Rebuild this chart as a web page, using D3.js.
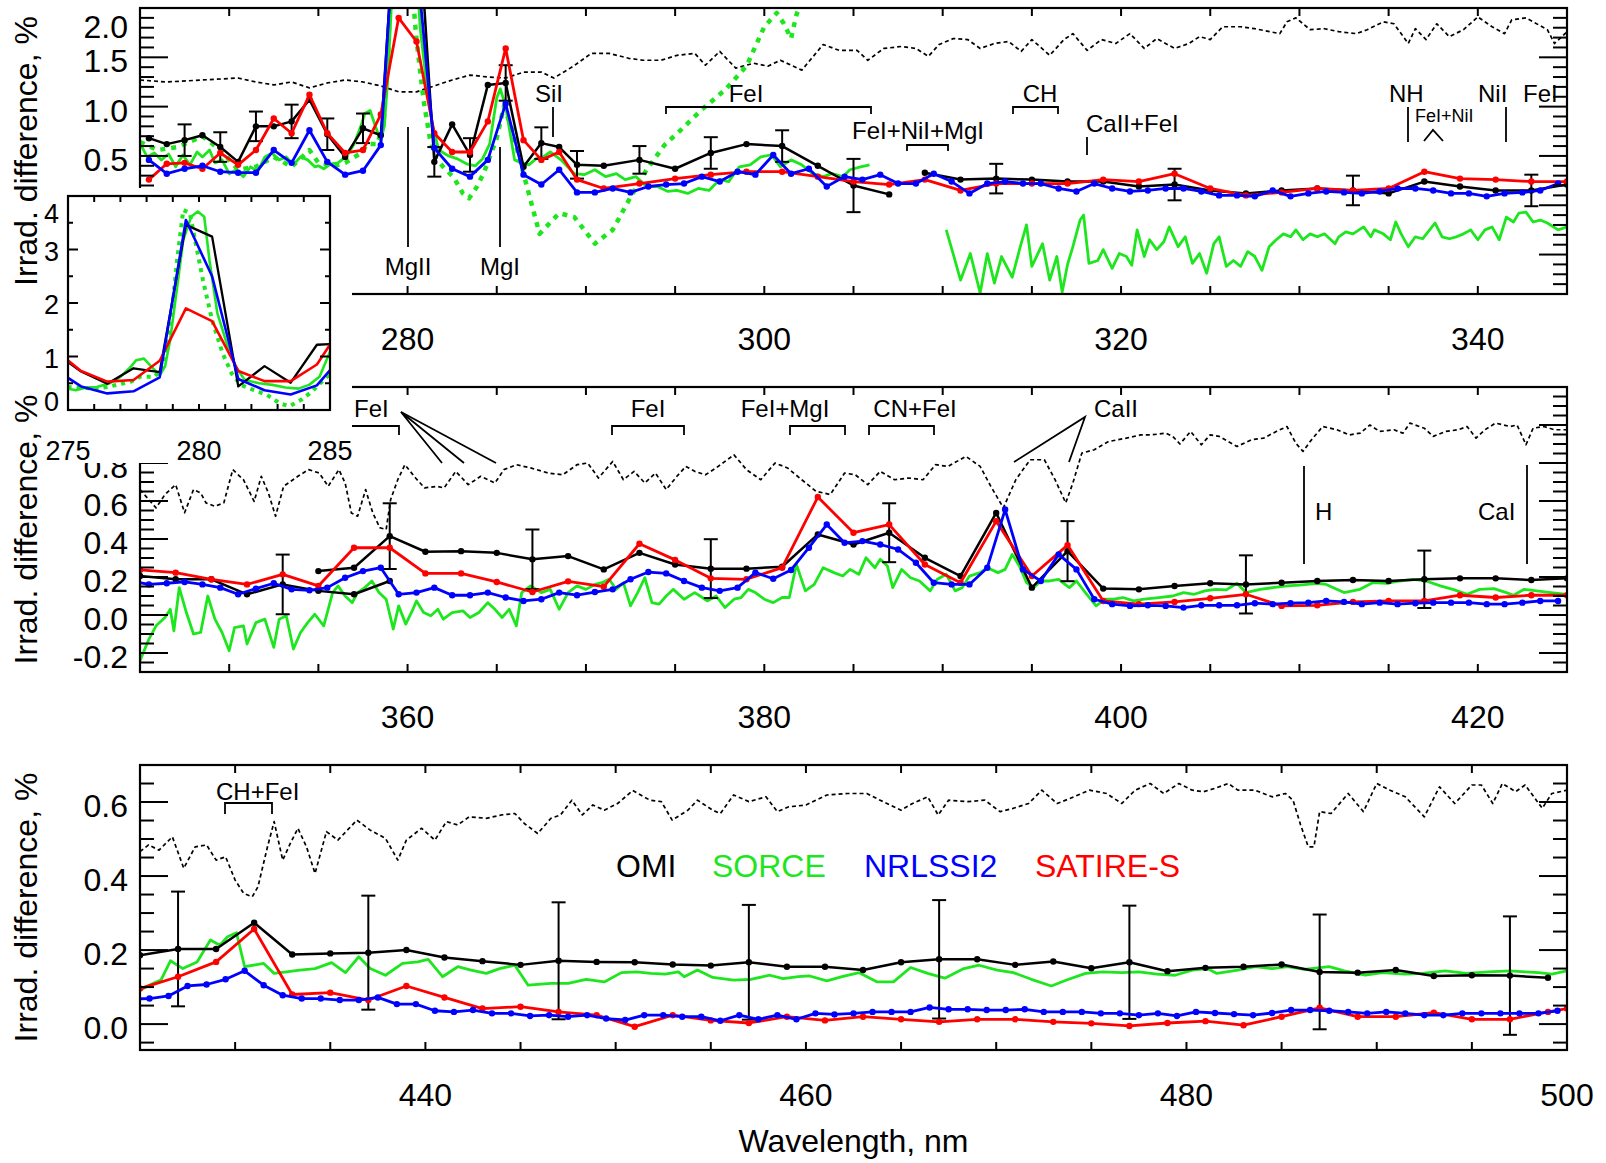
<!DOCTYPE html>
<html><head><meta charset="utf-8">
<script src="https://cdn.jsdelivr.net/npm/d3@7"></script>
<style>
html,body{margin:0;padding:0;background:#fff;}
svg{display:block;font-family:"Liberation Sans",Arial,Helvetica,sans-serif;}
</style></head><body>
<svg id="chart" width="1606" height="1163"></svg>
<script>
// ===================== DATA =====================
// Series names / legend
const seriesNames = ["OMI", "SORCE", "NRLSSI2", "SATIRE-S"];
const seriesColors = {OMI:"#000000", SORCE:"#1ee61e", NRLSSI2:"#0000ff", "SATIRE-S":"#ff0000"};

// Tick labels
const xLabels1 = [280, 300, 320, 340];
const xLabels2 = [360, 380, 400, 420];
const xLabels3 = [440, 460, 480, 500];
const insetXLabels = [275, 280, 285];
const insetYLabels = [0, 1, 2, 3, 4];

// ---------- Panel 1 (265-345 nm) ----------
const omi1a = [[265.5,0.68],[266.5,0.62],[267.5,0.66],[268.5,0.71],[269.5,0.59],[270.5,0.44],[271.5,0.80],[272.5,0.80],[273.5,0.85],[274.5,1.07],[275.5,0.72],[276.5,0.49],[277.5,0.78],[278.5,0.71],[279.5,3.46],[280.5,3.24],[281.5,0.44],[282.5,0.82],[283.5,0.51],[284.5,1.22],[285.5,1.24],[286.5,0.39],[287.5,0.63],[288.5,0.59],[289.5,0.41],[291,0.40],[293,0.46],[295,0.37],[297,0.53],[299,0.62],[301,0.60],[303,0.40],[305,0.20],[307,0.11]];
const omi1b = [[309,0.33],[311,0.26],[313,0.27],[315,0.26],[317,0.24],[319,0.24],[321,0.19],[323,0.21],[325,0.15],[327,0.12],[329,0.15],[331,0.17],[333,0.15],[335,0.12],[337,0.24],[339,0.19],[341,0.15],[343,0.15],[345,0.21]];
const err1a = [[267.5,0.16],[269.5,0.15],[271.5,0.15],[273.5,0.17],[275.5,0.16],[277.5,0.15],[281.5,0.15],[283.5,0.17],[285.5,0.18],[287.5,0.16],[289.5,0.14],[293,0.14],[297,0.16],[301,0.16],[305,0.27]];
const err1b = [[313,0.15],[323,0.16],[333,0.15],[343,0.16]];
const satire1 = [[265.5,0.26],[266.5,0.42],[267.5,0.43],[268.5,0.37],[269.5,0.53],[270.5,0.41],[271.5,0.56],[272.5,0.88],[273.5,0.73],[274.5,1.12],[275.5,0.73],[276.5,0.53],[277.5,0.56],[278.5,0.92],[279.5,1.90],[280.5,1.66],[281.5,0.73],[282.5,0.54],[283.5,0.54],[284.5,0.85],[285.5,1.59],[286.5,0.66],[287.5,0.46],[288.5,0.54],[289.5,0.26],[291,0.17],[293,0.22],[295,0.27],[297,0.31],[299,0.34],[301,0.34],[303,0.29],[305,0.24],[307,0.21],[309,0.26],[311,0.15],[313,0.22],[315,0.22],[317,0.22],[319,0.26],[321,0.24],[323,0.32],[325,0.17],[327,0.10],[329,0.13],[331,0.17],[333,0.15],[335,0.17],[337,0.34],[339,0.27],[341,0.26],[343,0.24],[345,0.24]];
const nrl1Wl = d3.range(265.5, 345, 1);
const nrl1Val = [0.46,0.32,0.37,0.40,0.34,0.33,0.33,0.56,0.43,0.76,
  0.44,0.31,0.35,0.61,3.55,2.50,0.58,0.37,0.29,0.46,
  1.03,0.31,0.21,0.36,0.13,0.13,0.17,0.13,0.19,0.21,
  0.22,0.29,0.24,0.34,0.31,0.51,0.32,0.37,0.19,0.29,
  0.26,0.31,0.22,0.22,0.32,0.24,0.12,0.22,0.24,0.22,
  0.22,0.17,0.14,0.22,0.17,0.14,0.15,0.17,0.17,0.14,
  0.10,0.10,0.09,0.15,0.09,0.12,0.14,0.13,0.12,0.14,
  0.17,0.17,0.15,0.12,0.12,0.09,0.12,0.13,0.15,0.22];
const sorce1a = [[265,0.63],[265.4,0.49],[265.8,0.53],[266.2,0.46],[266.6,0.52],[267,0.39],[267.4,0.51],[267.8,0.41],[268.2,0.54],[268.5,0.49],[268.9,0.56],[269.2,0.43],[269.6,0.46],[270,0.32],[270.4,0.36],[270.8,0.29],[271.2,0.39],[271.6,0.34],[272,0.49],[272.4,0.53],[272.8,0.46],[273.2,0.49],[273.6,0.41],[274,0.49],[274.4,0.46],[274.8,0.39],[275,0.40],[275.3,0.37],[275.7,0.42],[276.1,0.43],[276.6,0.50],[277,0.62],[277.4,0.81],[277.6,0.93],[277.9,0.96],[278.2,0.80],[278.5,0.65],[278.7,0.81],[278.9,1.31],[279.2,2.43],[279.4,3.18],[279.7,3.61],[279.95,3.71],[280.2,3.61],[280.4,2.8],[280.7,1.81],[281.1,1.18],[281.4,0.81],[281.75,0.56],[282.3,0.50],[282.8,0.47],[283.3,0.42],[283.8,0.40],[284.2,0.47],[284.6,0.62],[285,1.09],[285.2,1.18],[285.5,1.0],[286,0.46],[286.4,0.43],[286.8,0.41],[287.2,0.47],[287.6,0.49],[288,0.54],[288.6,0.46],[289.35,0.32],[289.9,0.31],[290.5,0.36],[291.1,0.29],[291.7,0.32],[292.2,0.26],[292.8,0.29],[293.4,0.19],[294,0.19],[294.6,0.14],[295.1,0.15],[295.7,0.12],[296.3,0.17],[296.9,0.15],[297.5,0.26],[298,0.24],[298.6,0.39],[299.2,0.41],[299.8,0.49],[300.4,0.51],[300.9,0.39],[301.5,0.46],[302.1,0.41],[302.7,0.32],[303.3,0.29],[303.8,0.32],[304.4,0.29],[304.8,0.36],[305.4,0.39],[305.9,0.41]];
const sorce1b = [[310.2,-0.25],[310.6,-0.5],[311,-0.76],[311.55,-0.49],[312.1,-0.89],[312.5,-0.49],[312.9,-0.79],[313.3,-0.52],[313.9,-0.73],[314.35,-0.42],[314.7,-0.2],[315,-0.62],[315.6,-0.39],[316,-0.76],[316.4,-0.52],[316.7,-0.88],[317,-0.6],[317.3,-0.42],[317.7,-0.15],[317.9,-0.1],[318.2,-0.59],[318.7,-0.56],[319,-0.45],[319.5,-0.64],[319.9,-0.49],[320.3,-0.52],[320.6,-0.61],[320.9,-0.25],[321.3,-0.52],[321.6,-0.35],[322,-0.45],[322.4,-0.37],[322.7,-0.22],[323.2,-0.42],[323.6,-0.32],[324,-0.59],[324.4,-0.49],[324.8,-0.69],[325.2,-0.39],[325.5,-0.32],[325.9,-0.62],[326.3,-0.56],[326.7,-0.62],[327.1,-0.47],[327.5,-0.52],[327.9,-0.66],[328.3,-0.42],[328.7,-0.35],[329.1,-0.29],[329.5,-0.32],[329.8,-0.25],[330.2,-0.35],[330.6,-0.29],[331,-0.32],[331.4,-0.29],[332,-0.39],[332.2,-0.32],[332.6,-0.27],[333,-0.29],[333.6,-0.22],[334,-0.32],[334.2,-0.25],[334.7,-0.29],[335.1,-0.35],[335.4,-0.17],[335.7,-0.29],[336.1,-0.42],[336.5,-0.32],[336.9,-0.34],[337.3,-0.25],[337.6,-0.18],[338,-0.32],[338.4,-0.34],[338.8,-0.32],[339.2,-0.29],[339.6,-0.25],[340,-0.35],[340.4,-0.25],[340.8,-0.22],[341.2,-0.35],[341.6,-0.12],[342,-0.17],[342.3,-0.08],[342.7,-0.07],[343.1,-0.17],[343.5,-0.15],[343.9,-0.18],[344.5,-0.25],[345,-0.22]];
const sorceAlt1 = [[265,0.64],[266,0.56],[267.1,0.59],[268.5,0.70],[269.5,0.56],[270.5,0.36],[271.5,0.39],[272.5,0.49],[273.5,0.39],[274.5,0.56],[275,0.43],[275.4,0.42],[275.95,0.40],[276.5,0.43],[277.4,0.53],[277.75,0.62],[278.3,0.62],[278.65,0.81],[278.9,1.49],[279.15,2.74],[279.4,3.74],[279.65,3.68],[279.9,3.05],[280.15,2.43],[280.5,1.68],[280.9,1.06],[281.25,0.68],[281.6,0.47],[282.1,0.37],[282.6,0.28],[283.1,0.12],[283.45,0.07],[283.9,0.19],[284.3,0.34],[285,0.68],[285.4,1.0],[285.8,0.8],[286.5,0.32],[287.4,-0.29],[288.5,-0.08],[289.35,-0.12],[290.5,-0.39],[291.5,-0.25],[292.4,0.05],[293.4,0.36],[294.4,0.61],[295.3,0.76],[296.5,0.97],[297.8,1.17],[299,1.41],[300,1.81],[300.7,1.95],[301.1,1.84],[301.5,1.69],[301.8,1.93],[302.1,2.08],[302.4,2.3]];
const spectrum1 = [[265,1.27],[266.5,1.25],[268.5,1.27],[270.5,1.29],[271.5,1.25],[272.5,1.22],[273.5,1.25],[274.5,1.19],[275.5,1.24],[276.5,1.27],[277.5,1.25],[278.5,1.21],[279.5,1.15],[280.5,1.15],[281.5,1.21],[282.5,1.27],[283.5,1.32],[284.5,1.30],[285.5,1.29],[286.5,1.35],[287.5,1.35],[288.2,1.29],[289.3,1.41],[290.3,1.54],[291.3,1.54],[292.4,1.49],[293.2,1.47],[294.2,1.47],[295.1,1.52],[296.1,1.54],[296.7,1.42],[297.5,1.56],[298.4,1.39],[299.4,1.44],[300.2,1.41],[300.9,1.47],[302.1,1.37],[303.3,1.63],[304.2,1.57],[305.2,1.57],[305.8,1.47],[306.7,1.59],[307.7,1.61],[308.5,1.59],[309.2,1.51],[309.8,1.63],[310.6,1.69],[311.4,1.68],[312.1,1.59],[312.9,1.64],[313.7,1.66],[314.4,1.56],[315,1.68],[316,1.52],[316.8,1.68],[317.3,1.74],[318.1,1.57],[318.9,1.68],[319.7,1.64],[320.5,1.74],[321.3,1.59],[322,1.69],[323,1.59],[323.8,1.64],[324.4,1.71],[325,1.68],[325.7,1.81],[326.7,1.81],[327.5,1.79],[328.9,1.74],[329.3,1.86],[329.8,1.90],[330.6,1.78],[331.4,1.79],[332.2,1.76],[333.2,1.74],[333.8,1.78],[334.7,1.86],[335.3,1.84],[336.1,1.64],[336.5,1.79],[337.1,1.68],[337.7,1.84],[338.4,1.71],[339.2,1.78],[340,1.91],[340.8,1.81],[341.5,1.74],[341.9,1.88],[342.7,1.90],[343.9,1.78],[344.3,1.64],[345,1.76]];

// ---------- Panel 2 (345-425 nm) ----------
const omi2a = [[345,0.205],[347,0.188],[349,0.188],[351,0.109],[353,0.161],[355,0.127],[357,0.109],[359,0.179]];
const omi2b = [[355,0.231],[357,0.249],[359,0.415],[361,0.333],[363,0.336],[365,0.327],[367,0.293],[369,0.31],[371,0.24],[373,0.327],[375,0.266],[377,0.244],[379,0.244],[381,0.254],[383,0.424],[385,0.371],[387,0.433],[389,0.301],[391,0.205],[393,0.537],[395,0.144],[397,0.336],[399,0.139],[401,0.135],[403,0.153],[405,0.167],[407,0.161],[409,0.17],[411,0.179],[413,0.184],[415,0.179],[417,0.188],[419,0.193],[421,0.193],[423,0.184],[425,0.193]];
const err2a = [[353,0.157]];
const err2b = [[359,0.173],[367,0.157],[377,0.155],[387,0.155],[397,0.158],[407,0.153],[417,0.151]];
const satire2 = [[345,0.237],[347,0.223],[349,0.188],[351,0.161],[353,0.214],[355,0.153],[357,0.354],[359,0.354],[361,0.219],[363,0.219],[365,0.174],[367,0.121],[369,0.177],[371,0.149],[373,0.375],[375,0.29],[377,0.193],[379,0.188],[381,0.249],[383,0.621],[385,0.433],[387,0.476],[389,0.266],[391,0.17],[393,0.494],[395,0.205],[397,0.368],[399,0.074],[401,0.057],[403,0.069],[405,0.088],[407,0.109],[409,0.048],[411,0.051],[413,0.069],[415,0.074],[417,0.074],[419,0.104],[421,0.092],[423,0.104],[425,0.104]];
const nrl2Wl = d3.range(344.5, 425, 1);
const nrl2Val = [0.179,0.161,0.167,0.174,0.161,0.144,0.109,0.139,0.167,0.135,
  0.130,0.144,0.196,0.231,0.249,0.109,0.118,0.144,0.104,0.104,
  0.118,0.092,0.074,0.083,0.118,0.104,0.121,0.135,0.188,0.226,
  0.219,0.179,0.144,0.127,0.144,0.223,0.191,0.237,0.354,0.476,
  0.380,0.389,0.371,0.345,0.275,0.170,0.161,0.161,0.249,0.555,
  0.240,0.179,0.319,0.240,0.083,0.057,0.048,0.051,0.048,0.039,
  0.051,0.051,0.051,0.062,0.057,0.062,0.065,0.074,0.069,0.057,
  0.065,0.057,0.062,0.065,0.065,0.065,0.057,0.057,0.065,0.074,
  0.074];
const sorce2 = [[345,-0.24],[345.5,-0.127],[345.9,-0.057],[346.4,-0.013],[346.7,0.03],[346.9,-0.083],[347.2,0.144],[347.6,0.013],[348,-0.1],[348.4,-0.092],[348.8,0.1],[349.2,-0.022],[349.6,-0.092],[350,-0.188],[350.3,-0.066],[350.8,-0.057],[351,-0.153],[351.5,-0.04],[352,-0.022],[352.5,-0.17],[352.8,-0.022],[353.2,-0.004],[353.6,-0.179],[354,-0.092],[354.4,-0.04],[354.8,0.004],[355.3,-0.057],[355.8,0.118],[356.1,0.153],[356.5,0.1],[356.9,0.065],[357.2,0.118],[357.6,0.144],[358,0.179],[358.4,0.118],[358.8,0.083],[359.2,-0.074],[359.5,0.048],[359.9,-0.048],[360.3,0.03],[360.5,0.074],[360.9,0.013],[361.3,-0.004],[361.7,0.03],[362,-0.022],[362.5,0.013],[363.1,0.022],[363.5,-0.013],[364,0.013],[364.5,0.065],[364.9,0.03],[365.3,-0.013],[365.7,0.03],[366.1,-0.057],[366.4,0.118],[366.9,0.153],[367.5,0.118],[368,0.135],[368.5,0.03],[369,0.118],[369.5,0.153],[370,0.135],[370.5,0.161],[370.9,0.17],[371.3,0.188],[371.7,0.135],[372.1,0.17],[372.5,0.048],[372.9,0.118],[373.3,0.196],[373.7,0.065],[374.1,0.057],[374.5,0.1],[374.9,0.135],[375.5,0.083],[376.1,0.118],[376.4,0.1],[376.8,0.074],[377.3,0.1],[377.8,0.039],[378.3,0.083],[378.7,0.092],[379.1,0.135],[379.5,0.118],[380,0.083],[380.5,0.065],[381,0.092],[381.4,0.092],[381.8,0.266],[382.3,0.127],[382.8,0.161],[383.3,0.249],[383.9,0.223],[384.4,0.205],[384.8,0.24],[385.3,0.214],[385.7,0.301],[386.2,0.249],[386.5,0.293],[386.9,0.258],[387.2,0.144],[387.7,0.24],[388.2,0.196],[388.7,0.179],[389.3,0.127],[389.7,0.188],[390.2,0.214],[390.7,0.127],[391.1,0.144],[391.5,0.205],[392.1,0.223],[392.5,0.249],[393.1,0.223],[393.5,0.24],[393.9,0.319],[394.3,0.258],[394.7,0.17],[395.1,0.144],[395.5,0.179],[396,0.179],[396.5,0.188],[397.1,0.144],[397.5,0.179],[398,0.118],[398.6,0.048],[399.1,0.083],[399.6,0.083],[400.1,0.092],[400.7,0.074],[401.3,0.083],[402.1,0.092],[402.9,0.1],[403.5,0.118],[404.1,0.109],[404.7,0.127],[405.3,0.135],[405.9,0.132],[406.5,0.167],[407,0.118],[407.8,0.135],[408.5,0.144],[409.3,0.153],[410,0.157],[411,0.167],[411.5,0.161],[412.5,0.118],[413.4,0.135],[414.1,0.17],[414.9,0.167],[415.6,0.179],[416.4,0.188],[417.1,0.179],[417.9,0.153],[418.6,0.135],[419.4,0.109],[420.1,0.135],[420.9,0.139],[421.6,0.118],[422,0.104],[422.6,0.135],[423.3,0.127],[424.1,0.118],[425,0.109]];
const spectrum2 = [[345,0.66],[345.9,0.564],[346.4,0.634],[347,0.686],[347.5,0.538],[348,0.66],[348.4,0.642],[348.7,0.59],[349.2,0.572],[349.7,0.59],[350.2,0.765],[350.8,0.712],[351.4,0.598],[351.8,0.73],[352.2,0.642],[352.6,0.52],[353.05,0.677],[353.85,0.73],[354.45,0.765],[355.05,0.747],[355.55,0.677],[356.15,0.765],[356.5,0.695],[356.85,0.537],[357.2,0.52],[357.65,0.66],[358.05,0.537],[358.45,0.459],[358.8,0.45],[359.05,0.607],[359.45,0.712],[359.85,0.791],[360.45,0.721],[360.95,0.669],[361.65,0.677],[362.05,0.669],[362.7,0.756],[363.4,0.686],[364.1,0.73],[364.9,0.695],[365.4,0.765],[366.1,0.791],[366.9,0.774],[367.9,0.747],[368.7,0.738],[369.5,0.791],[370.1,0.8],[370.7,0.721],[371.5,0.808],[372.1,0.712],[372.7,0.756],[373.3,0.695],[373.9,0.747],[374.5,0.66],[375.1,0.73],[375.6,0.782],[376.1,0.756],[376.7,0.738],[377.3,0.774],[378.3,0.843],[379,0.765],[379.8,0.712],[380.6,0.8],[381.3,0.774],[382.1,0.712],[382.9,0.651],[383.7,0.634],[384.5,0.747],[385.1,0.738],[385.8,0.686],[386.5,0.756],[387.3,0.712],[388.1,0.721],[388.9,0.712],[389.6,0.791],[390.3,0.782],[391.3,0.835],[392.1,0.782],[392.7,0.677],[393.4,0.564],[394.1,0.712],[394.9,0.817],[395.7,0.817],[396.3,0.712],[396.9,0.59],[397.3,0.695],[397.8,0.852],[398.5,0.87],[399.3,0.913],[400.3,0.931],[401.1,0.948],[401.7,0.948],[402.5,0.957],[402.9,0.94],[403.3,0.9],[403.9,0.966],[404.5,0.896],[405,0.948],[405.5,0.94],[406.5,0.887],[407.3,0.922],[408,0.931],[408.7,0.966],[409.3,0.992],[409.8,0.904],[410.2,0.861],[410.6,0.913],[411.3,0.992],[412.1,0.975],[412.8,0.948],[413.4,0.957],[413.95,1.0],[414.5,0.966],[415.3,0.975],[415.8,0.957],[416.2,1.01],[417,0.983],[417.5,0.94],[418.2,0.966],[418.9,0.975],[419.4,0.992],[419.9,0.931],[420.4,0.975],[421,1.01],[421.8,0.992],[422.2,1.0],[422.7,0.896],[423.1,0.983],[423.7,0.992],[424.3,0.975],[425,0.975]];

// ---------- Panel 3 (425-500 nm) ----------
const omi3 = [[425,0.186],[427,0.203],[429,0.203],[431,0.274],[433,0.188],[435,0.191],[437,0.193],[439,0.2],[441,0.18],[443,0.17],[445,0.16],[447,0.171],[449,0.168],[451,0.167],[453,0.161],[455,0.158],[457,0.167],[459,0.155],[461,0.155],[463,0.146],[465,0.167],[467,0.175],[469,0.175],[471,0.16],[473,0.169],[475,0.151],[477,0.167],[479,0.143],[481,0.152],[483,0.155],[485,0.161],[487,0.141],[489,0.139],[491,0.146],[493,0.13],[495,0.132],[497,0.131],[499,0.125]];
const err3 = [[427,0.155],[437,0.154],[447,0.158],[457,0.155],[467,0.16],[477,0.153],[487,0.155],[497,0.16]];
const satire3 = [[425,0.096],[427,0.128],[429,0.168],[431,0.257],[433,0.08],[435,0.085],[437,0.065],[439,0.103],[441,0.072],[443,0.042],[445,0.047],[447,0.033],[449,0.024],[451,-0.007],[453,0.024],[455,0.01],[457,0.003],[459,0.02],[461,0.01],[463,0.02],[465,0.013],[467,0.006],[469,0.013],[471,0.013],[473,0.006],[475,0.002],[477,-0.005],[479,0.003],[481,0.008],[483,-0.003],[485,0.02],[487,0.044],[489,0.02],[491,0.02],[493,0.031],[495,0.013],[497,0.013],[499,0.033],[500,0.042]];
const nrl3Wl = d3.range(424.5, 500, 1);
const nrl3Val = [0.068,0.069,0.076,0.103,0.107,0.121,0.144,0.105,0.078,0.069,
  0.069,0.065,0.065,0.072,0.054,0.054,0.036,0.033,0.038,0.029,
  0.029,0.022,0.024,0.020,0.024,0.015,0.011,0.024,0.024,0.020,
  0.020,0.009,0.024,0.013,0.024,0.013,0.029,0.026,0.029,0.033,
  0.033,0.033,0.045,0.040,0.040,0.038,0.038,0.040,0.033,0.033,
  0.033,0.029,0.029,0.024,0.029,0.022,0.033,0.030,0.027,0.024,
  0.030,0.038,0.038,0.036,0.033,0.029,0.033,0.029,0.024,0.024,
  0.029,0.029,0.029,0.029,0.029,0.036];
const sorce3 = [[425,0.092],[425.7,0.11],[426.1,0.119],[426.6,0.171],[427.25,0.15],[428,0.168],[428.7,0.227],[429.2,0.213],[429.6,0.236],[430.07,0.247],[430.5,0.155],[431.5,0.164],[432.05,0.137],[432.7,0.141],[433.4,0.146],[434.2,0.15],[435.07,0.166],[435.8,0.139],[436.5,0.182],[437.1,0.15],[437.9,0.132],[438.8,0.164],[439.6,0.168],[440.15,0.175],[440.9,0.128],[441.7,0.155],[442.4,0.146],[443.2,0.137],[443.9,0.15],[444.7,0.159],[445.4,0.105],[446.6,0.11],[447.5,0.11],[448.45,0.121],[449.4,0.114],[450.3,0.139],[451.1,0.141],[451.85,0.137],[452.6,0.135],[453.3,0.141],[453.6,0.128],[454.3,0.146],[455.1,0.126],[456.2,0.119],[457.1,0.121],[458.1,0.132],[458.8,0.123],[459.6,0.128],[460.2,0.13],[461.1,0.117],[461.9,0.128],[462.8,0.139],[463.75,0.114],[464.6,0.114],[465.5,0.153],[466.4,0.137],[467.3,0.124],[468.3,0.15],[469.1,0.159],[470.05,0.146],[470.9,0.139],[471.85,0.121],[472.9,0.103],[473.7,0.119],[474.7,0.137],[475.6,0.141],[476.6,0.139],[477.5,0.141],[478.45,0.135],[479.4,0.132],[480.3,0.146],[481.1,0.15],[481.6,0.137],[482.7,0.146],[483.6,0.155],[484.5,0.15],[485.3,0.155],[486.2,0.148],[487.5,0.155],[488.3,0.144],[489.4,0.132],[490.3,0.139],[491.5,0.135],[492.4,0.137],[493.6,0.144],[494.7,0.137],[495.9,0.141],[497,0.144],[497.8,0.141],[498.5,0.139],[499.2,0.135],[500,0.144]];
const spectrum3 = [[425,0.466],[425.45,0.484],[426,0.47],[426.7,0.506],[427.3,0.421],[427.9,0.479],[428.5,0.484],[429,0.443],[429.5,0.452],[430,0.389],[430.45,0.353],[430.9,0.344],[431.2,0.371],[431.7,0.479],[432.05,0.547],[432.5,0.443],[432.9,0.488],[433.3,0.529],[433.75,0.479],[434.2,0.407],[434.8,0.52],[435.4,0.497],[436.4,0.551],[437.1,0.524],[437.9,0.502],[438.55,0.443],[439,0.497],[439.8,0.529],[440.5,0.497],[441.1,0.547],[441.7,0.538],[442.3,0.56],[443.2,0.556],[444,0.565],[444.7,0.569],[445.2,0.542],[445.9,0.515],[446.6,0.556],[447.1,0.565],[447.7,0.605],[448.25,0.565],[448.8,0.592],[449.4,0.578],[450.1,0.596],[450.9,0.631],[451.8,0.605],[452.4,0.601],[452.97,0.551],[453.8,0.578],[454.3,0.605],[455.1,0.578],[455.5,0.569],[456.2,0.619],[457,0.601],[457.9,0.614],[458.5,0.574],[459.1,0.587],[460,0.592],[461.1,0.619],[462.2,0.623],[463.2,0.623],[463.9,0.605],[465,0.578],[465.6,0.596],[466.4,0.614],[466.95,0.565],[467.5,0.605],[468.5,0.601],[469.4,0.605],[470.2,0.574],[470.9,0.583],[471.7,0.596],[472.4,0.632],[473.2,0.596],[473.9,0.61],[474.9,0.632],[475.8,0.623],[476.6,0.596],[477.3,0.632],[478.1,0.65],[478.8,0.623],[479.6,0.65],[480.3,0.632],[480.9,0.628],[481.5,0.637],[482.2,0.65],[482.7,0.632],[483.6,0.632],[484.5,0.614],[485.2,0.623],[485.6,0.605],[486,0.538],[486.4,0.479],[486.7,0.479],[487,0.574],[487.6,0.569],[488.5,0.623],[489.3,0.574],[490,0.65],[490.7,0.632],[491.5,0.614],[492.5,0.56],[493.3,0.641],[494.1,0.596],[495,0.646],[495.5,0.646],[496.1,0.596],[496.6,0.65],[497.3,0.628],[497.8,0.646],[498.7,0.583],[499.2,0.623],[500,0.632]];

// ===================== LAYOUT =====================
const svg = d3.select('#chart');
const X0 = 140, X1 = 1567;
const GREEN = seriesColors.SORCE, BLUE = seriesColors.NRLSSI2, RED = seriesColors["SATIRE-S"];
const FONT = 32;
// white box of the inset (covers the left parts of panels 1 and 2)
const BOX = {x0:42, x1:352, y0:188, y1:463};

const panels = [
  {key:'p1', top:8, bottom:294, xd:[265,345], yd:[-0.9,2.0], yMajor:0.5, yMinor:0.1, xLab:xLabels1},
  {key:'p2', top:387, bottom:672, xd:[345,425], yd:[-0.3,1.2], yMajor:0.2, yMinor:0.05, xLab:xLabels2},
  {key:'p3', top:765, bottom:1050, xd:[425,500], yd:[-0.07,0.7], yMajor:0.2, yMinor:0.05, xLab:xLabels3}
];
panels.forEach(p => {
  p.x = d3.scaleLinear().domain(p.xd).range([X0, X1]);
  p.y = d3.scaleLinear().domain(p.yd).range([p.bottom, p.top]);
});
const defs = svg.append('defs');
panels.forEach(p => {
  defs.append('clipPath').attr('id','clip-'+p.key).append('rect')
    .attr('x',X0).attr('y',p.top).attr('width',X1-X0).attr('height',p.bottom-p.top);
});

const pairs = (wl, val) => wl.map((w,i)=>[w, val[i]]);

function drawLine(g, p, data, color, width, dash, markers) {
  const ln = d3.line().x(d=>p.x(d[0])).y(d=>p.y(d[1]));
  g.append('path').datum(data).attr('d', ln).attr('fill','none')
    .attr('stroke', color).attr('stroke-width', width)
    .attr('stroke-linejoin','round')
    .attr('stroke-dasharray', dash || null);
  if (markers) {
    g.selectAll(null).data(data).enter().append('circle')
      .attr('cx', d=>p.x(d[0])).attr('cy', d=>p.y(d[1])).attr('r', 3.2).attr('fill', color);
  }
}
function drawErr(g, p, seg, errs) {
  errs.forEach(e => {
    const c = seg.find(d => Math.abs(d[0]-e[0])<1e-6)[1];
    const xx = p.x(e[0]), ya = p.y(c+e[1]), yb = p.y(c-e[1]);
    g.append('line').attr('x1',xx).attr('x2',xx).attr('y1',ya).attr('y2',yb).attr('stroke','#000').attr('stroke-width',2);
    [ya,yb].forEach(yy => g.append('line').attr('x1',xx-7).attr('x2',xx+7).attr('y1',yy).attr('y2',yy).attr('stroke','#000').attr('stroke-width',2));
  });
}
function fmt(v){ return Math.abs(v)<1e-9 ? '0.0' : v.toFixed(1); }

function drawFrame(p) {
  const g = svg.append('g');
  for (let t = Math.ceil(p.xd[0]/5)*5; t <= p.xd[1]; t += 5) {
    const xx = p.x(t);
    g.append('line').attr('x1',xx).attr('x2',xx).attr('y1',p.bottom).attr('y2',p.bottom-8).attr('stroke','#000').attr('stroke-width',2);
    g.append('line').attr('x1',xx).attr('x2',xx).attr('y1',p.top).attr('y2',p.top+8).attr('stroke','#000').attr('stroke-width',2);
  }
  p.xLab.forEach(t => {
    g.append('text').attr('x',p.x(t)).attr('y',p.bottom+56).attr('text-anchor','middle')
      .attr('font-size',FONT).text(t);
  });
  const k0 = Math.ceil(p.yd[0]/p.yMinor - 1e-6), k1 = Math.floor(p.yd[1]/p.yMinor + 1e-6);
  for (let k = k0; k <= k1; k++) {
    const v = k*p.yMinor;
    const major = Math.abs(v/p.yMajor - Math.round(v/p.yMajor)) < 1e-6;
    const len = major ? 28 : 14;
    const yy = p.y(v);
    g.append('line').attr('x1',X0).attr('x2',X0+len).attr('y1',yy).attr('y2',yy).attr('stroke','#000').attr('stroke-width',2);
    g.append('line').attr('x1',X1).attr('x2',X1-len).attr('y1',yy).attr('y2',yy).attr('stroke','#000').attr('stroke-width',2);
    if (major) {
      let ly = yy + 4;
      if (yy - p.top < 6) ly = p.top + 19;
      // labels lying completely under the inset's white box are not visible
      if (ly - 12 > BOX.y0 && ly + 12 < BOX.y1) continue;
      g.append('text').attr('x',128).attr('y',ly).attr('text-anchor','end')
        .attr('dominant-baseline','central').attr('font-size',FONT).text(fmt(v));
    }
  }
  g.append('rect').attr('x',X0).attr('y',p.top).attr('width',X1-X0).attr('height',p.bottom-p.top)
    .attr('fill','none').attr('stroke','#000').attr('stroke-width',2.2);
}

const [P1,P2,P3] = panels;
function content(p){ return svg.append('g').attr('clip-path','url(#clip-'+p.key+')'); }

// Panel 1
let g1 = content(P1);
drawLine(g1, P1, spectrum1, '#000', 1.7, '4,3', false);
drawLine(g1, P1, sorce1a, GREEN, 2.8, null, false);
drawLine(g1, P1, sorce1b, GREEN, 2.8, null, false);
drawLine(g1, P1, sorceAlt1, GREEN, 4.5, '5,6', false);
drawLine(g1, P1, omi1a, '#000', 2.5, null, true);
drawLine(g1, P1, omi1b, '#000', 2.5, null, true);
drawErr(g1, P1, omi1a, err1a);
drawErr(g1, P1, omi1b, err1b);
drawLine(g1, P1, satire1, RED, 2.8, null, true);
drawLine(g1, P1, pairs(nrl1Wl, nrl1Val), BLUE, 2.8, null, true);

// Panel 2
let g2 = content(P2);
drawLine(g2, P2, spectrum2, '#000', 1.7, '4,3', false);
drawLine(g2, P2, sorce2, GREEN, 2.8, null, false);
drawLine(g2, P2, omi2a, '#000', 2.5, null, true);
drawLine(g2, P2, omi2b, '#000', 2.5, null, true);
drawErr(g2, P2, omi2a, err2a);
drawErr(g2, P2, omi2b, err2b);
drawLine(g2, P2, satire2, RED, 2.8, null, true);
drawLine(g2, P2, pairs(nrl2Wl, nrl2Val), BLUE, 2.8, null, true);

// Panel 3
let g3 = content(P3);
drawLine(g3, P3, spectrum3, '#000', 1.7, '4,3', false);
drawLine(g3, P3, sorce3, GREEN, 2.8, null, false);
drawLine(g3, P3, omi3, '#000', 2.5, null, true);
drawErr(g3, P3, omi3, err3);
drawLine(g3, P3, satire3, RED, 2.8, null, true);
drawLine(g3, P3, pairs(nrl3Wl, nrl3Val), BLUE, 2.8, null, true);

panels.forEach(drawFrame);

// ---------- Inset ----------
svg.append('rect').attr('x',BOX.x0).attr('y',BOX.y0).attr('width',BOX.x1-BOX.x0).attr('height',BOX.y1-BOX.y0).attr('fill','#fff');
const I = {key:'in', top:196, bottom:410, xd:[275,285], yd:[0,4]};
I.x = d3.scaleLinear().domain(I.xd).range([68,330]);
I.y = d3.scaleLinear().domain(I.yd).range([I.bottom, I.top]);
defs.append('clipPath').attr('id','clip-in').append('rect').attr('x',68).attr('y',196).attr('width',262).attr('height',214);
const gi = svg.append('g').attr('clip-path','url(#clip-in)');
drawLine(gi, I, sorce1a, GREEN, 2.6, null, false);
drawLine(gi, I, sorceAlt1, GREEN, 4, '4,5', false);
drawLine(gi, I, omi1a, '#000', 2.3, null, false);
drawLine(gi, I, satire1, RED, 2.6, null, false);
drawLine(gi, I, pairs(nrl1Wl, nrl1Val), BLUE, 2.6, null, false);
const gf = svg.append('g');
const IFONT = 27;
for (let t = 275; t <= 285; t++) {
  const xx = I.x(t);
  gf.append('line').attr('x1',xx).attr('x2',xx).attr('y1',I.bottom).attr('y2',I.bottom-6).attr('stroke','#000').attr('stroke-width',2);
  gf.append('line').attr('x1',xx).attr('x2',xx).attr('y1',I.top).attr('y2',I.top+6).attr('stroke','#000').attr('stroke-width',2);
}
for (let k = 0; k <= 8; k++) {
  const v = k*0.5, yy = I.y(v), len = (k%2===0) ? 10 : 5;
  gf.append('line').attr('x1',68).attr('x2',68+len).attr('y1',yy).attr('y2',yy).attr('stroke','#000').attr('stroke-width',2);
  gf.append('line').attr('x1',330).attr('x2',330-len).attr('y1',yy).attr('y2',yy).attr('stroke','#000').attr('stroke-width',2);
}
insetYLabels.forEach(v => {
  const yy = I.y(v);
  let ly = yy + 2;
  if (v===4) ly = yy + 18;
  if (v===0) ly = yy - 8;
  gf.append('text').attr('x',59).attr('y',ly).attr('text-anchor','end').attr('dominant-baseline','central')
    .attr('font-size',IFONT).text(v);
});
insetXLabels.forEach(t => gf.append('text').attr('x',I.x(t)).attr('y',460).attr('text-anchor','middle').attr('font-size',IFONT).text(t));
gf.append('rect').attr('x',68).attr('y',196).attr('width',262).attr('height',214).attr('fill','none').attr('stroke','#000').attr('stroke-width',2.2);

// ---------- Titles ----------
[P1,P2,P3].forEach(p => {
  const cy = (p.top+p.bottom)/2;
  svg.append('text').attr('transform',`translate(37,${cy}) rotate(-90)`).attr('text-anchor','middle')
    .attr('font-size',FONT).text('Irrad. difference, %');
});
svg.append('text').attr('x',(X0+X1)/2).attr('y',1152).attr('text-anchor','middle').attr('font-size',FONT).text('Wavelength, nm');

// ---------- Legend ----------
const legendX = [616, 712, 864, 1035];
seriesNames.forEach((n,i) => svg.append('text').attr('x',legendX[i]).attr('y',877).attr('font-size',FONT)
  .attr('fill', seriesColors[n]).text(n));

// ---------- Annotations ----------
const ga = svg.append('g').attr('stroke','#000').attr('stroke-width',1.8).attr('fill','none');
const gt = svg.append('g').attr('font-size',24);
function txt(x,y,s,anchor,size){ const t=gt.append('text').attr('x',x).attr('y',y).attr('text-anchor',anchor||'start').text(s); if(size) t.attr('font-size',size); }
function seg(pts){ ga.append('path').attr('d', d3.line()(pts)); }
function bracket(x1,x2,y,h){ seg([[x1,y+h],[x1,y],[x2,y],[x2,y+h]]); }
// panel 1
txt(408,275,'MgII','middle'); seg([[408,127],[408,247]]);
txt(500,275,'MgI','middle'); seg([[500,147],[500,247]]);
txt(549,102,'SiI','middle'); seg([[553,107],[553,137]]);
txt(746,102,'FeI','middle'); bracket(666,871,107,7);
txt(918,139,'FeI+NiI+MgI','middle'); bracket(907,948,145,6);
txt(1040,102,'CH','middle'); bracket(1013,1058,107,7);
txt(1086,132,'CaII+FeI'); seg([[1087,137],[1087,155]]);
txt(1389,102,'NH'); seg([[1408,107],[1408,142]]);
txt(1415,122,'FeI+NiI',null,18); seg([[1424,141],[1433,130],[1443,141]]);
txt(1478,102,'NiI'); seg([[1506,107],[1506,142]]);
txt(1523,102,'FeI');
// panel 2
txt(354,417,'FeI'); seg([[352,426],[399,426],[399,435]]);
seg([[442,463],[401,412],[464,463]]); seg([[401,412],[496,463]]);
txt(648,417,'FeI','middle'); bracket(612,684,426,9);
txt(785,417,'FeI+MgI','middle'); bracket(790,845,426,9);
txt(915,417,'CN+FeI','middle'); bracket(869,934,426,9);
txt(1094,417,'CaII'); seg([[1014,462],[1085,417],[1069,462]]);
txt(1315,520,'H'); seg([[1304,466],[1304,564]]);
txt(1478,520,'CaI'); seg([[1527,465],[1527,564]]);
// panel 3
txt(216,800,'CH+FeI'); bracket(225,272,803,11);
</script>
</body></html>
